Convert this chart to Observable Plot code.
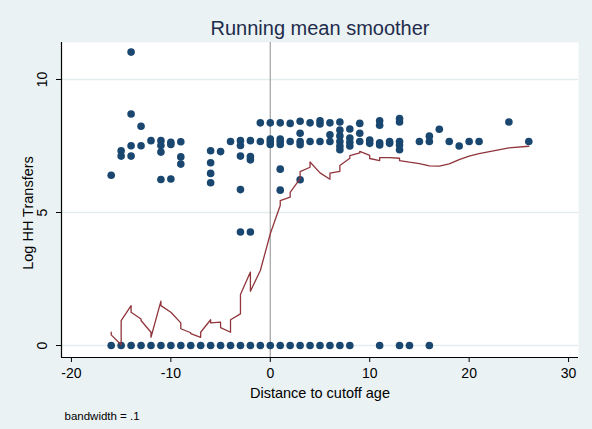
<!DOCTYPE html>
<html>
<head>
<meta charset="utf-8">
<script src="https://cdn.jsdelivr.net/npm/d3@7"></script>
<script src="https://cdn.jsdelivr.net/npm/@observablehq/plot@0.6"></script>
<style>
  html, body { margin: 0; padding: 0; background: #eaf2f3; }
  #chart { width: 592px; height: 429px; }
</style>
</head>
<body>
<div id="chart"></div>
<script>
// ---- Data ----
const titleText = "Running mean smoother";
const xLabel = "Distance to cutoff age";
const yLabel = "Log HH Transfers";
const captionText = "bandwidth = .1";

const xTicks = [-20, -10, 0, 10, 20, 30];
const yTicks = [0, 5, 10];
const xDomain = [-21, 31];
const yDomain = [-0.45, 11.39];

// observations with zero (log) transfers
const zeroAges = [-16,-15,-14,-13,-12,-11,-10,-9,-8,-7,-6,-5,-4,-3,-2,-1,0,1,2,3,4,5,6,7,8,11,13,14,16];

// observations with positive transfers, grouped by age distance
const posAges = [-16,-15,-14,-13,-12,-11,-10,-9,-6,-5,-4,-3,-2,-1,0,1,2,3,4,5,6,7,8,9,10,11,12,13,15,16,17,18,19,20,21,24,26];
const posTransfers = [
  [6.40],
  [7.32, 7.12],
  [11.03, 8.70, 7.51, 7.12],
  [8.24, 7.51],
  [7.70],
  [7.70, 7.52, 7.27, 6.24],
  [7.64, 7.56, 6.26],
  [7.66, 7.09, 6.82],
  [7.32, 6.87, 6.47, 6.12],
  [7.29],
  [7.67],
  [7.70, 7.52, 7.12, 5.86, 4.27],
  [7.70, 7.10, 6.98, 4.27],
  [8.37, 7.67],
  [8.37, 7.76, 7.67, 7.56],
  [8.37, 7.76, 7.67, 7.56, 6.63, 5.84],
  [8.35, 7.67],
  [8.43, 7.98, 7.67, 7.55, 6.23],
  [8.37, 7.67],
  [8.45, 8.33, 7.67],
  [8.37, 7.92, 7.67],
  [8.40, 8.10, 7.88, 7.67, 7.50, 7.36],
  [8.14, 7.80, 7.64, 7.50],
  [8.35, 7.98, 7.67],
  [7.72, 7.60],
  [8.45, 8.28, 7.62, 7.54],
  [7.67, 7.60],
  [8.53, 8.40, 7.67, 7.54, 7.36],
  [7.67],
  [7.87, 7.67],
  [8.13],
  [7.67],
  [7.50],
  [7.67],
  [7.67],
  [8.40],
  [7.67]
];

// running-mean smoother (vertices in observation order)
const smoothAge = [-16,-16,-15,-15,-15,-14,-14,-13,-13,-12,-12,-11,-11,-10,-9,-9,-8,-8,-7,-7,-6,-6,-5,-5,-4,-4,-3,-3,-3,-2,-2,-1,0,1,1,2,2,3,3,4,4,5,6,6,7,7,8,8,9,9,10,10,11,11,12,13,13,14,15,16,17,18,19,20,21,24,26];
const smoothMean = [0.50,0.40,0.03,0.40,0.94,1.50,1.25,1.00,0.94,0.50,0.31,1.67,1.50,1.25,0.85,0.63,0.48,0.45,0.31,0.50,0.97,0.85,0.88,0.67,0.50,0.97,1.19,1.55,1.92,2.76,2.04,2.82,4.20,5.26,5.45,5.58,5.76,6.27,6.54,6.70,6.90,6.49,6.25,6.48,6.55,6.77,7.04,7.14,7.24,7.30,7.15,7.03,6.95,7.06,7.06,7.04,6.95,6.89,6.84,6.75,6.74,6.83,6.99,7.12,7.21,7.43,7.49];

// ---- Build tables ----
const points = [];
zeroAges.forEach(a => points.push({age: a, value: 0}));
posAges.forEach((a, i) => posTransfers[i].forEach(v => points.push({age: a, value: v})));
const smooth = smoothAge.map((a, i) => ({age: a, value: smoothMean[i]}));

const navy = "#1a476f";
const maroon = "#90353b";

const chart = Plot.plot({
  width: 592,
  height: 429,
  marginLeft: 61,
  marginRight: 14,
  marginTop: 42,
  marginBottom: 72,
  style: {
    background: "#eaf2f3",
    fontFamily: "'Liberation Sans', Arial, Helvetica, sans-serif",
    color: "black",
    overflow: "visible"
  },
  x: { domain: xDomain, label: null },
  y: { domain: yDomain, label: null },
  marks: [
    Plot.frame({ fill: "white", stroke: null }),
    Plot.gridY(yTicks, { stroke: "#e3eded", strokeOpacity: 1, strokeWidth: 1.5 }),
    Plot.ruleX([0], { stroke: "#a8a8a8", strokeWidth: 1.3 }),
    Plot.dot(points, { x: "age", y: "value", r: 3.8, fill: navy, stroke: null }),
    Plot.line(smooth, { x: "age", y: "value", stroke: maroon, strokeWidth: 1.3 }),
    Plot.ruleX([xDomain[0]], { stroke: "black", strokeWidth: 1.2 }),
    Plot.ruleY([yDomain[0]], { stroke: "black", strokeWidth: 1.2 }),
    Plot.axisX({ ticks: xTicks, tickSize: 5, tickPadding: 6, fontSize: 14, tickFormat: d => String(d), label: null }),
    Plot.axisY({ ticks: yTicks, tickSize: 5, tickFormat: () => "", label: null }),
    Plot.text(yTicks, { y: d => d, text: d => String(d), frameAnchor: "left", dx: -19, rotate: -90, textAnchor: "middle", lineAnchor: "middle", fontSize: 14 }),
    Plot.text([yLabel], { text: d => d, frameAnchor: "left", dx: -33, dy: 13, rotate: -90, textAnchor: "middle", lineAnchor: "middle", fontSize: 14.5 }),
    Plot.text([xLabel], { text: d => d, frameAnchor: "bottom", dy: 36, textAnchor: "middle", lineAnchor: "middle", fontSize: 14.5 }),
    Plot.text([titleText], { text: d => d, frameAnchor: "top", dy: -14, textAnchor: "middle", lineAnchor: "middle", fontSize: 20, fill: "#1f2c4c" }),
    Plot.text([captionText], { text: d => d, frameAnchor: "bottom-left", dx: 3, dy: 59, textAnchor: "start", lineAnchor: "middle", fontSize: 11.5 })
  ]
});
document.getElementById("chart").appendChild(chart);
</script>
</body>
</html>
